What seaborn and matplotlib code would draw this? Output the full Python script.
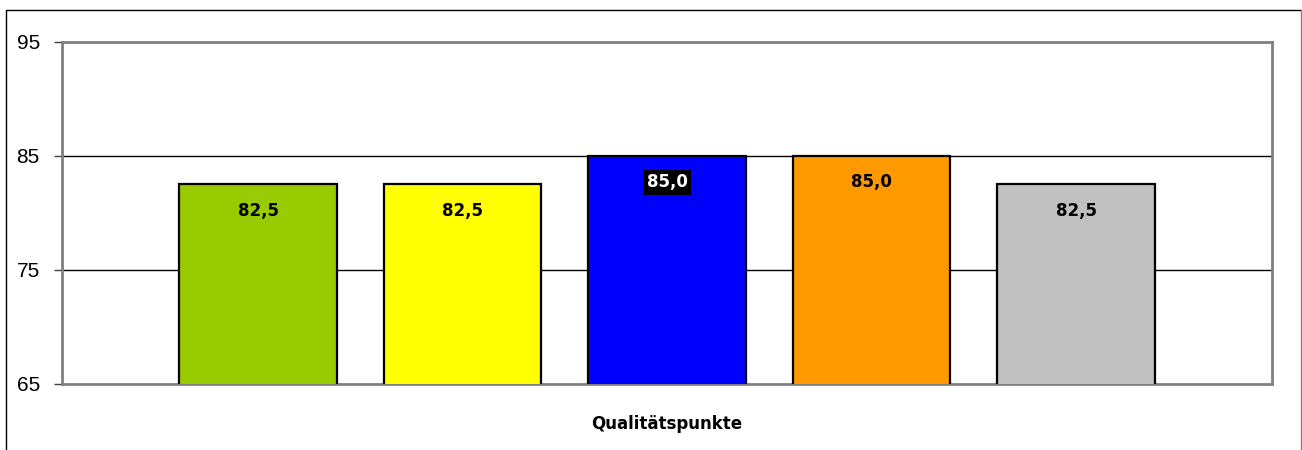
import matplotlib
matplotlib.use("Agg")
import matplotlib.pyplot as plt
from matplotlib.lines import Line2D
import pandas as pd
import seaborn as sns

# data
category = "Qualitätspunkte"
series = ["Reihe 1", "Reihe 2", "Reihe 3", "Reihe 4", "Reihe 5"]
values = [82.5, 82.5, 85.0, 85.0, 82.5]
colors = ["#99CC00", "#FFFF00", "#0000FF", "#FF9900", "#C0C0C0"]
yticks = [65, 75, 85, 95]

df = pd.DataFrame({"Kategorie": [category] * len(series), "Reihe": series, "Wert": values})

sns.set_style("white")
plt.rcParams["font.family"] = ["DejaVu Sans"]
plt.rcParams["text.color"] = "black"
plt.rcParams["xtick.color"] = "black"
plt.rcParams["ytick.color"] = "black"

fig = plt.figure(figsize=(13.02, 4.5), dpi=100)
ax = fig.add_axes([0.0476, 0.1467, 0.9294, 0.76])

sns.barplot(data=df, x="Kategorie", y="Wert", hue="Reihe", palette=colors,
            saturation=1, width=0.845, gap=0.232, edgecolor="black", linewidth=1.6,
            legend=False, ax=ax, zorder=3)

ax.set_ylim(65, 95)
ax.set_xlim(-0.5, 0.5)
ax.set_yticks(yticks)
ax.set_yticklabels([str(t) for t in yticks], fontsize=15, family=["Liberation Sans", "DejaVu Sans"])
ax.tick_params(axis="y", length=6, width=1, color="#404040", labelcolor="black", pad=10, left=True)
ax.tick_params(axis="x", length=0, pad=22, labelcolor="black")
ax.set_xticks([0])
ax.set_xticklabels([category], fontsize=12, fontweight="bold")
ax.set_xlabel("")
ax.set_ylabel("")

# grid lines at 75 and 85 only
for g in [75, 85]:
    ax.axhline(g, color="black", linewidth=1, zorder=1)

for s in ax.spines.values():
    s.set_color("#808080")
    s.set_linewidth(2)
    s.set_visible(True)

# value labels inside the bars (the blue one is white on black)
for i, (patch, val) in enumerate(zip(ax.patches, values)):
    x = patch.get_x() + patch.get_width() / 2
    txt = f"{val:.1f}".replace(".", ",")
    if colors[i] == "#0000FF":
        ax.annotate(txt, (x, val), xytext=(0, -19), textcoords="offset points",
                    ha="center", va="center", fontsize=12, fontweight="bold",
                    color="white", zorder=5,
                    bbox=dict(boxstyle="square,pad=0.2", fc="black", ec="none"))
    else:
        ax.annotate(txt, (x, val), xytext=(0, -19), textcoords="offset points",
                    ha="center", va="center", fontsize=12, fontweight="bold",
                    color="black", zorder=5)

# outer chart border
W, H = 1302, 450
fig.add_artist(Line2D([6 / W, 6 / W], [0, 1 - 10 / H], color="black", linewidth=1))
fig.add_artist(Line2D([6 / W, 1301 / W], [1 - 10 / H, 1 - 10 / H], color="black", linewidth=1))
fig.add_artist(Line2D([1300.5 / W, 1300.5 / W], [0, 1 - 10 / H], color="#808080", linewidth=1))

fig.savefig("out.png", dpi=100)
